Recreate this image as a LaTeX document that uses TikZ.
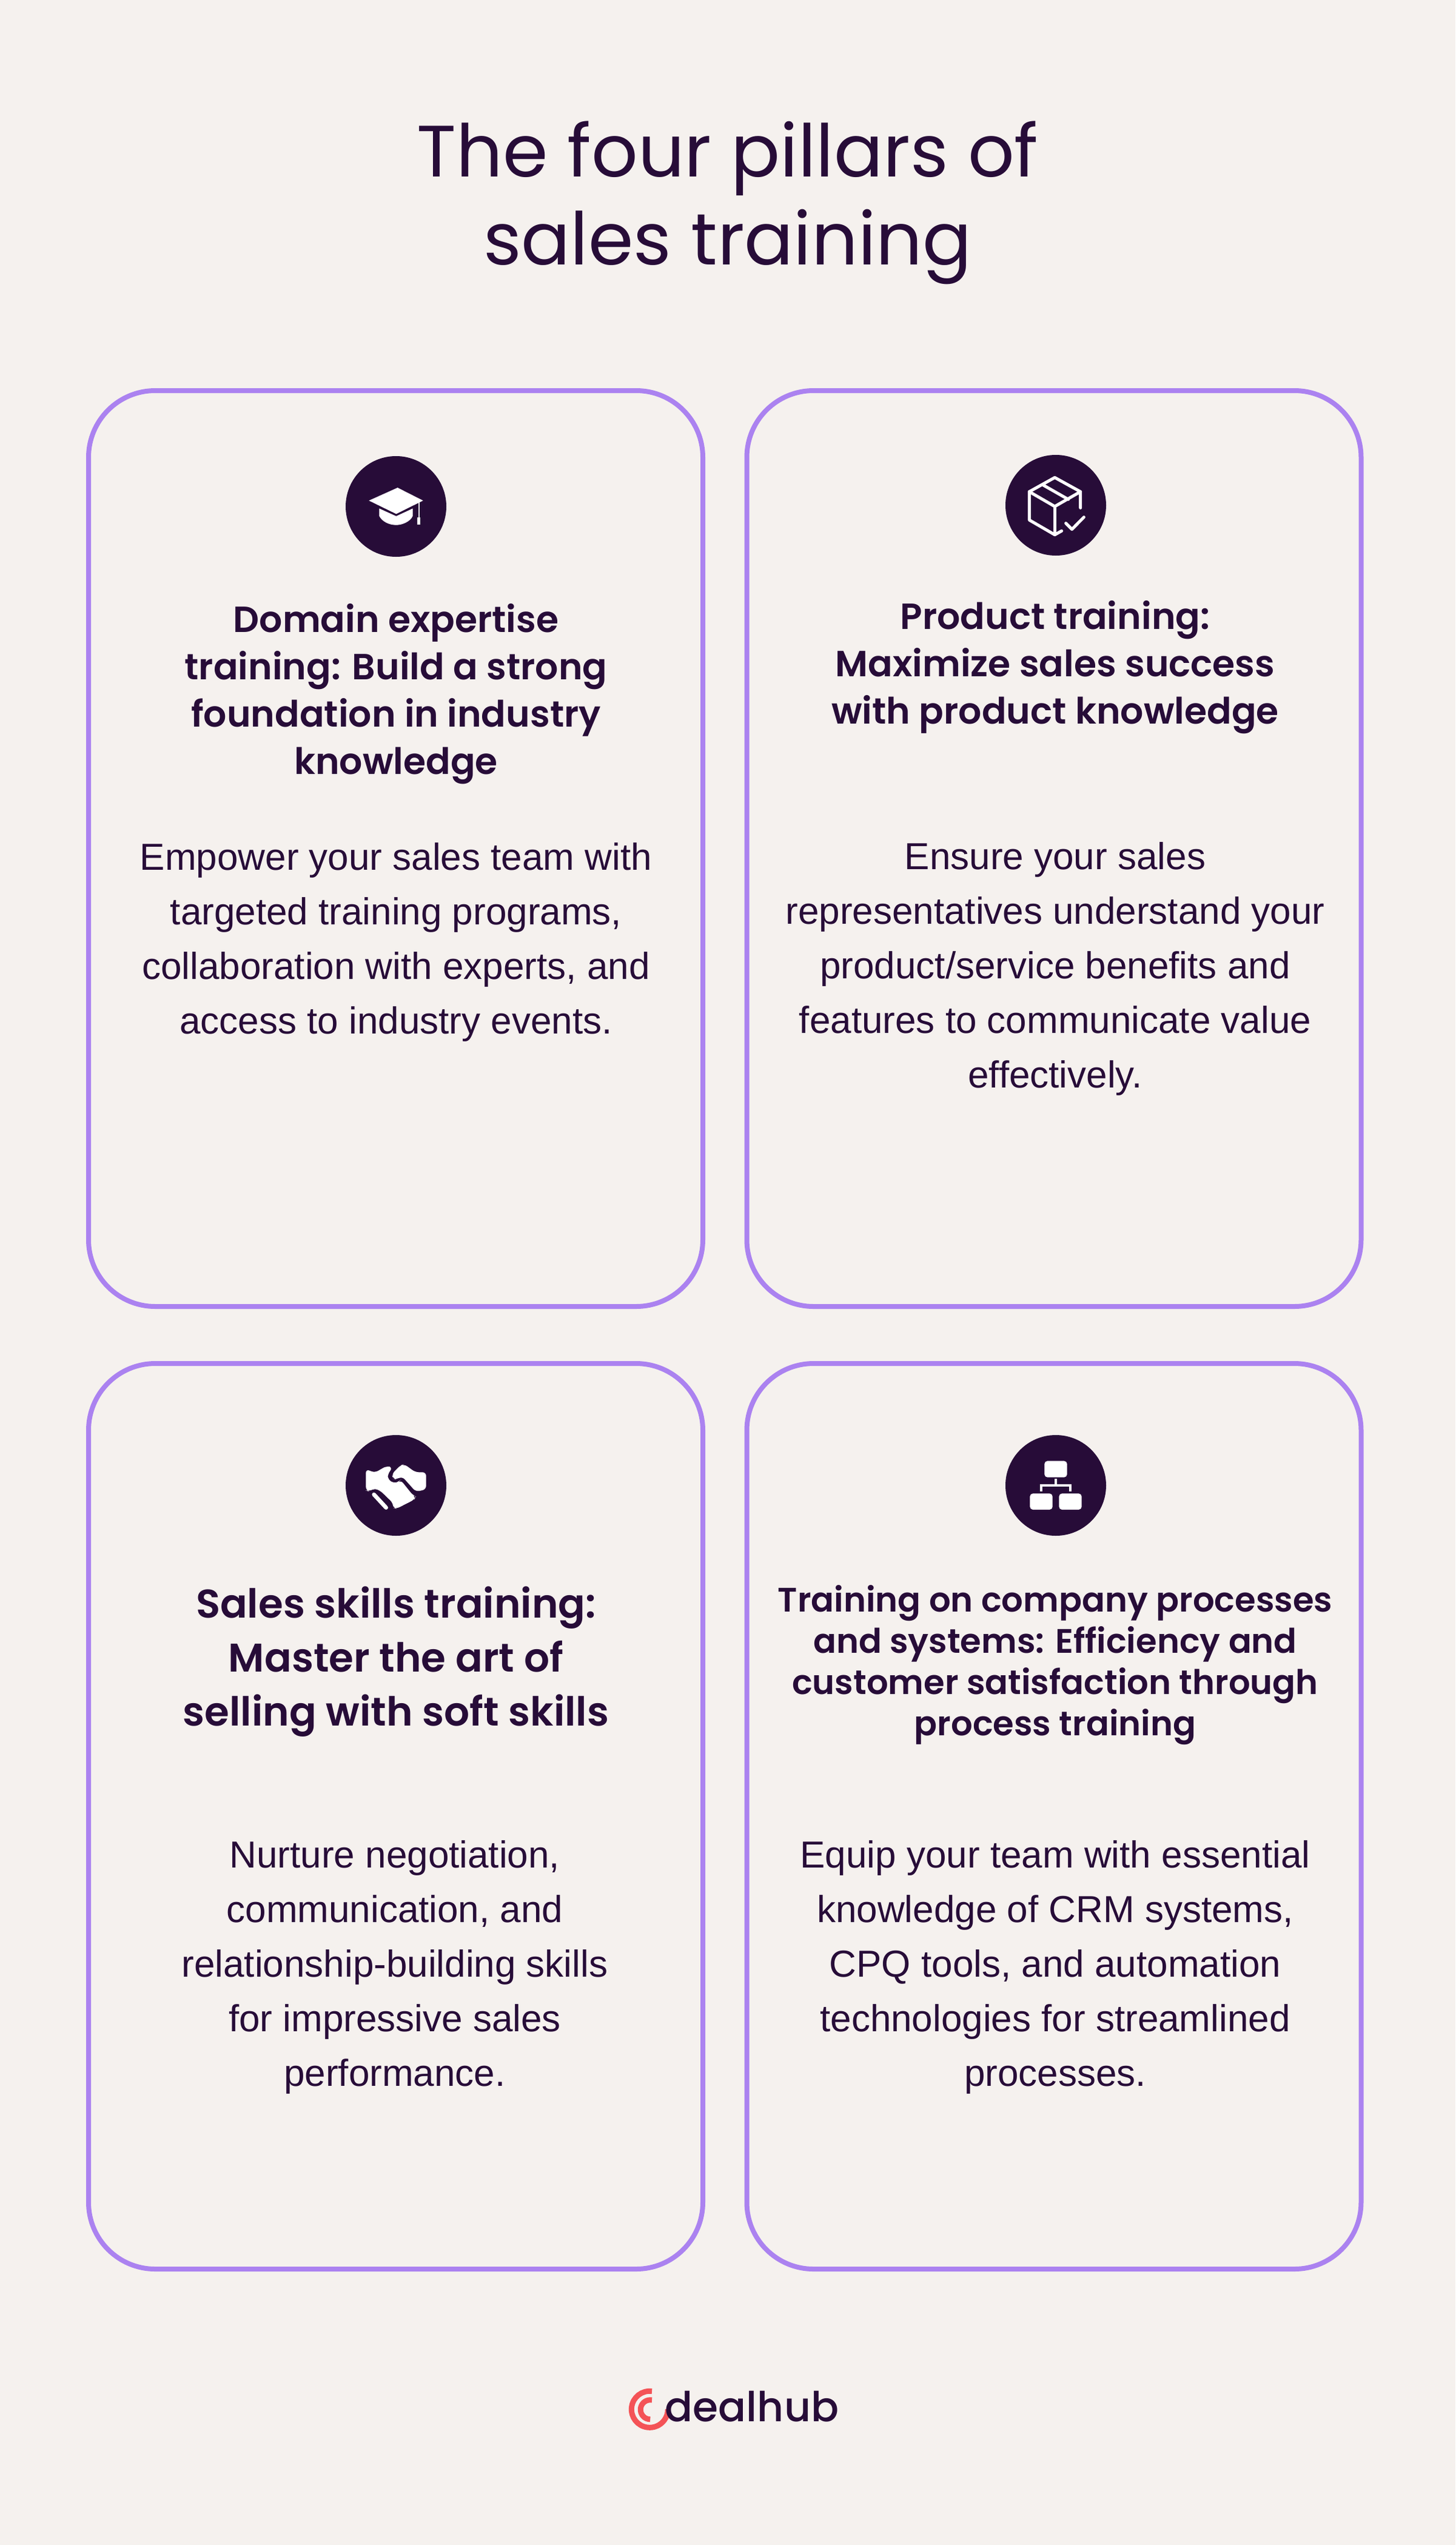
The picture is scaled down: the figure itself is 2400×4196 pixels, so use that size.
\documentclass[tikz,border=0pt]{standalone}
\usepackage{fontspec}
\setmainfont{Liberation Sans}
\newfontfamily\titlefont{Poppins}
\newfontfamily\headfont{Poppins SemiBold}
\newfontfamily\logofont{Poppins Medium}
\definecolor{bgc}{HTML}{F5F1EE}
\definecolor{ink}{HTML}{270C38}
\definecolor{lilac}{HTML}{AB82F0}
\definecolor{coral}{HTML}{F45357}
\tikzset{
  cardbox/.style={draw=lilac,line width=4pt,rounded corners=55pt,minimum width=506.5pt,inner sep=0pt},
  disc/.style={circle,fill=ink,minimum size=83pt,inner sep=0pt},
  bodytext/.style={text=ink,align=center,font=\fontsize{31}{45}\selectfont},
  headtext/.style={text=ink,align=center,font=\headfont\fontsize{30}{39}\selectfont},
  zoomed/.style={x=0.166667pt,y=-0.166667pt},
  iconline/.style={draw=white,line width=2.5pt,line cap=round,line join=round}
}
\begin{document}
\begin{tikzpicture}[x=0.5pt,y=-0.5pt]
\fill[bgc] (0,0) rectangle (2400,4196);
\useasboundingbox (0,0) rectangle (2400,4196);
\node[text=ink,align=center,font=\titlefont\fontsize{60}{72.5}\selectfont] (title) at (1200,334) {The four pillars of\\sales training};
% cards
\node[cardbox,minimum height=755pt] (card1) at (652.5,1399) {};
\node[cardbox,minimum height=755pt] (card2) at (1738,1399) {};
\node[cardbox,minimum height=746.5pt] (card3) at (652.5,2994.5) {};
\node[cardbox,minimum height=746.5pt] (card4) at (1738,2994.5) {};
% discs
\node[disc] (disc1) at (653,835) {};
\node[disc] (disc2) at (1741,833) {};
\node[disc] (disc3) at (653,2449) {};
\node[disc] (disc4) at (1741,2449) {};
% headings
\node[headtext] (head1) at (653,1144) {Domain expertise\\training: Build a strong\\foundation in industry\\knowledge};
\node[headtext] (head2) at (1740,1100) {Product training:\\Maximize sales success\\with product knowledge};
\node[headtext,font=\headfont\fontsize{33}{44.5}\selectfont] (head3) at (653,2740) {Sales skills training:\\Master the art of\\selling with soft skills};
\node[headtext,font=\headfont\fontsize{28}{34}\selectfont] (head4) at (1740,2745) {Training on company processes\\and systems: Efficiency and\\customer satisfaction through\\process training};
% bodies
\node[bodytext] (body1) at (653,1553) {Empower your sales team with\\targeted training programs,\\collaboration with experts, and\\access to industry events.};
\node[bodytext] (body2) at (1740,1597) {Ensure your sales\\representatives understand your\\product/service benefits and\\features to communicate value\\effectively.};
\node[bodytext] (body3) at (651,3243) {Nurture negotiation,\\communication, and\\relationship-building skills\\for impressive sales\\performance.};
\node[bodytext] (body4) at (1740,3243) {Equip your team with essential\\knowledge of CRM systems,\\CPQ tools, and automation\\technologies for streamlined\\processes.};
% cap icon
\begin{scope}[shift={(520,720)},zoomed]
\fill[white] (265,316) -- (407,252) -- (533,316) -- (400,382) -- cycle;
\fill[white] (316,355) -- (400,393) -- (482,355) -- (482,392) .. controls (470,420) and (430,437) .. (400,437) .. controls (365,437) and (330,420) .. (316,392) -- cycle;
\fill[white] (509,325) rectangle (515,400);
\fill[white] (503,400) rectangle (518,434);
\end{scope}
% box icon
\begin{scope}[shift={(1620,720)},zoomed]
\draw[iconline] (232,272) -- (358,202) -- (485,272) -- (485,352);
\draw[iconline] (232,272) -- (232,412) -- (358,485) -- (392,466);
\draw[iconline] (232,272) -- (358,345) -- (485,272);
\draw[iconline] (358,345) -- (358,485);
\draw[iconline] (302,240) -- (425,310);
\draw[iconline] (413,428) -- (443,458) -- (502,398);
\end{scope}
% handshake icon
\begin{scope}[shift={(520,2340)},zoomed]
\fill[white,rounded corners=3pt] (250,247) -- (295,264) -- (352,231) -- (382,238) -- (358,272) -- (358,295) -- (385,316) -- (412,310) -- (422,300) -- (482,375) -- (497,382) -- (490,397) -- (402,442) -- (385,440) -- (385,415) -- (320,352) -- (290,342) -- (265,357) -- (250,352) -- cycle;
\fill[white,rounded corners=3pt] (378,272) -- (420,228) -- (440,222) -- (495,262) -- (548,262) -- (548,347) -- (497,358) -- (430,283) -- (400,297) -- (385,295) -- cycle;
\draw[white,line width=3.3pt,line cap=round] (290,372) -- (350,437);
\end{scope}
% org icon
\begin{scope}[shift={(1620,2340)},zoomed]
\fill[white,rounded corners=2.5pt] (307,206) rectangle (419,287);
\fill[white,rounded corners=2.5pt] (235,367) rectangle (347,447);
\fill[white,rounded corners=2.5pt] (379,367) rectangle (491,447);
\fill[white] (357,295) rectangle (369,325);
\fill[white] (284,320) rectangle (442,332);
\fill[white] (284,320) rectangle (296,358);
\fill[white] (430,320) rectangle (442,358);
\end{scope}
% logo
\draw[coral,line width=4.5pt] (1075,3942.5) arc (-83:-360+180-180+0:30) ;
\draw[coral,line width=4.5pt] (1075,3957) arc (-80:-270:16);
\node[text=ink,font=\logofont\fontsize{34}{40}\selectfont] (logo) at (1240,3968) {dealhub};
\end{tikzpicture}
\end{document}
